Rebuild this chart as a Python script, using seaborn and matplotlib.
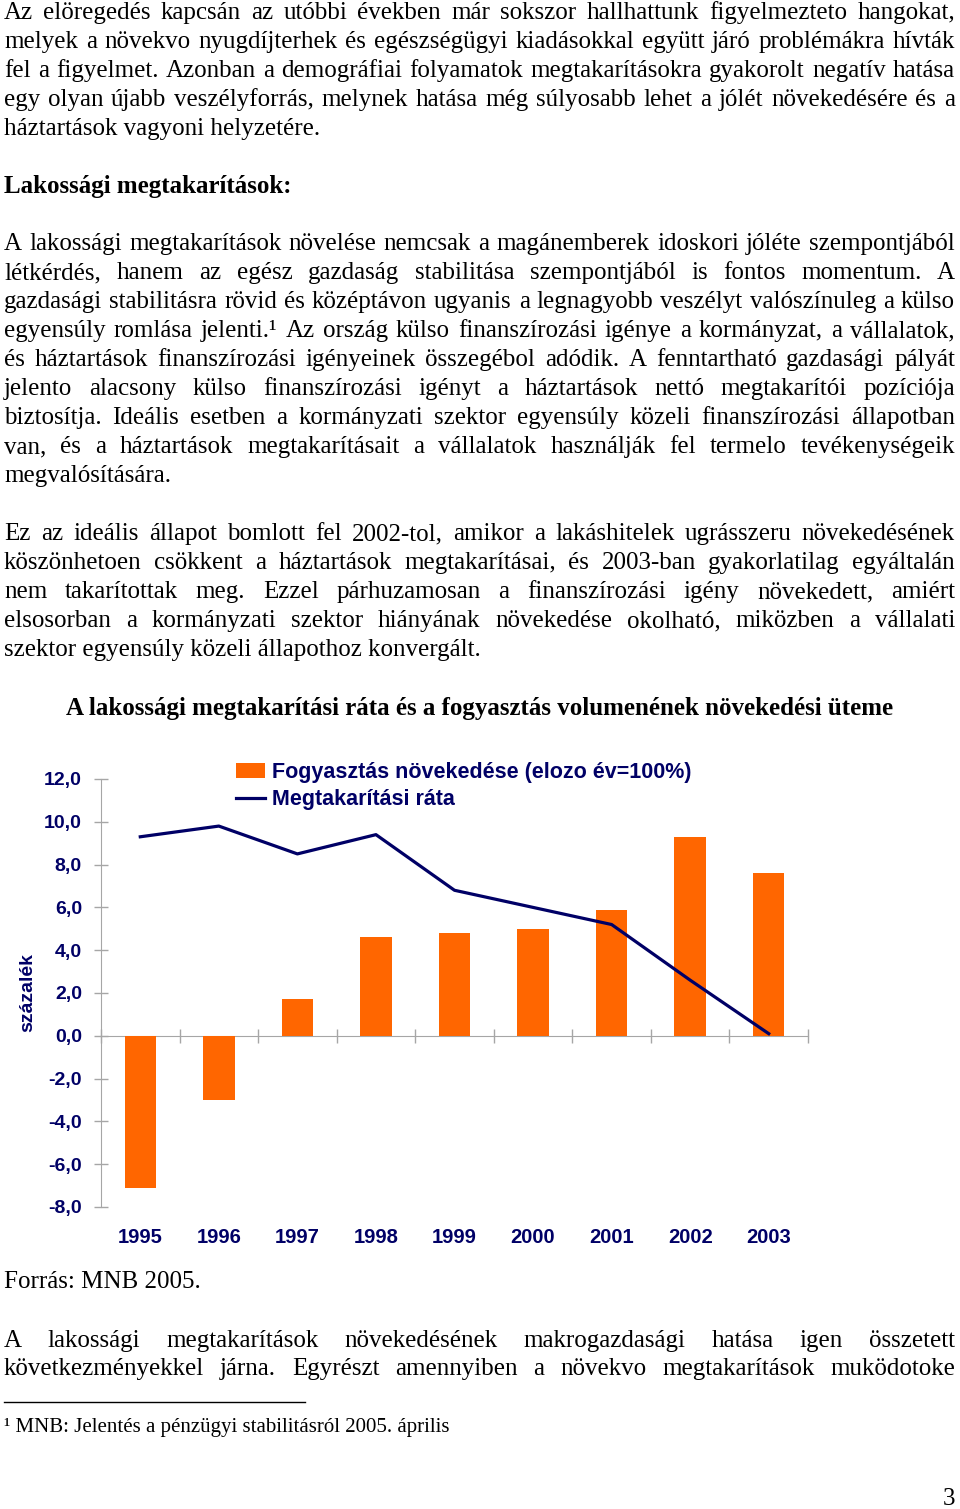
import numpy as np
import matplotlib
matplotlib.use('Agg')
import matplotlib.pyplot as plt
from matplotlib.lines import Line2D
import seaborn as sns

# adatok a diagramhoz
evek = ['1995', '1996', '1997', '1998', '1999', '2000', '2001', '2002', '2003']
fogyasztas = [-7.1, -3.0, 1.7, 4.6, 4.8, 5.0, 5.9, 9.3, 7.6]
megtakaritasi_rata = [9.3, 9.8, 8.5, 9.4, 6.8, 6.0, 5.2, 2.6, 0.1]
y_tickek = [-8, -6, -4, -2, 0, 2, 4, 6, 8, 10, 12]
y_cimkek = [f'{v:.1f}'.replace('.', ',') for v in y_tickek]

cim = 'A lakossági megtakarítási ráta és a fogyasztás volumenének növekedési üteme'
jelmagyarazat = ['Fogyasztás növekedése (elozo év=100%)', 'Megtakarítási ráta']
y_felirat = 'százalék'

# a szoveg sorai: (sor, sorkizart?)
bekezdes1 = [
    ('Az elöregedés kapcsán az utóbbi években már sokszor hallhattunk figyelmezteto hangokat,', True),
    ('melyek a növekvo nyugdíjterhek és egészségügyi kiadásokkal együtt járó problémákra hívták', True),
    ('fel a figyelmet. Azonban a demográfiai folyamatok megtakarításokra gyakorolt negatív hatása', True),
    ('egy olyan újabb veszélyforrás, melynek hatása még súlyosabb lehet a jólét növekedésére és a', True),
    ('háztartások vagyoni helyzetére.', False),
]
bekezdes2 = [
    ('A lakossági megtakarítások növelése nemcsak a magánemberek idoskori jóléte szempontjából', True),
    ('létkérdés, hanem az egész gazdaság stabilitása szempontjából is fontos momentum. A', True),
    ('gazdasági stabilitásra rövid és középtávon ugyanis a legnagyobb veszélyt valószínuleg a külso', True),
    ('egyensúly romlása jelenti.\u00b9 Az ország külso finanszírozási igénye a kormányzat, a vállalatok,', True),
    ('és háztartások finanszírozási igényeinek összegébol adódik. A fenntartható gazdasági pályát', True),
    ('jelento alacsony külso finanszírozási igényt a háztartások nettó megtakarítói pozíciója', True),
    ('biztosítja. Ideális esetben a kormányzati szektor egyensúly közeli finanszírozási állapotban', True),
    ('van, és a háztartások megtakarításait a vállalatok használják fel termelo tevékenységeik', True),
    ('megvalósítására.', False),
]
bekezdes3 = [
    ('Ez az ideális állapot bomlott fel 2002-tol, amikor a lakáshitelek ugrásszeru növekedésének', True),
    ('köszönhetoen csökkent a háztartások megtakarításai, és 2003-ban gyakorlatilag egyáltalán', True),
    ('nem takarítottak meg. Ezzel párhuzamosan a finanszírozási igény növekedett, amiért', True),
    ('elsosorban a kormányzati szektor hiányának növekedése okolható, miközben a vállalati', True),
    ('szektor egyensúly közeli állapothoz konvergált.', False),
]
bekezdes4 = [
    ('A lakossági megtakarítások növekedésének makrogazdasági hatása igen összetett', True),
    ('következményekkel járna. Egyrészt amennyiben a növekvo megtakarítások muködotoke', True),
]

W, H = 960, 1509
SERIF = 'Liberation Serif'
SANS = 'Liberation Sans'
BODY = 18
NAVY = '#000066'
NARANCS = '#ff6600'
SZURKE = '#a6a6a6'

fig = plt.figure(figsize=(W / 100, H / 100), dpi=100)
fig.patch.set_facecolor('white')


# egy sor kiirasa, sorkizarva ha kell
def sor(szoveg, y, sorkizart=False, x0=4, x1=955, meret=BODY, vastag='normal'):
    if not sorkizart:
        fig.text(x0 / W, 1 - y / H, szoveg, family=SERIF, size=meret,
                 weight=vastag, va='baseline', ha='left')
        return
    szavak = szoveg.split(' ')
    elemek = [fig.text(0, 1 - y / H, s, family=SERIF, size=meret, weight=vastag,
                       va='baseline', ha='left') for s in szavak]
    r = fig.canvas.get_renderer()
    szelek = [e.get_window_extent(r).width for e in elemek]
    koz = (x1 - x0 - sum(szelek)) / (len(szavak) - 1)
    x = x0
    for e, sz in zip(elemek, szelek):
        e.set_x(x / W)
        x += sz + koz


def bekezdes(sorok, y_elso, lepes=29):
    for i, (s, j) in enumerate(sorok):
        sor(s, y_elso + i * lepes, j)


bekezdes(bekezdes1, 19)
sor('Lakossági megtakarítások:', 193, vastag='bold')
bekezdes(bekezdes2, 250)
bekezdes(bekezdes3, 540)

fig.text(480 / W, 1 - 715 / H, cim, family=SERIF, size=BODY, weight='bold',
         ha='center', va='baseline')

# diagram
ax = fig.add_axes([101 / W, 1 - 1207 / H, 707 / W, 428 / H])
sns.barplot(x=evek, y=fogyasztas, color=NARANCS, saturation=1, width=0.4,
            linewidth=0, label=jelmagyarazat[0], ax=ax)
sns.lineplot(x=np.arange(len(evek)), y=megtakaritasi_rata, color=NAVY,
             linewidth=2.3, label=jelmagyarazat[1], ax=ax)

ax.set_xlim(-0.5, len(evek) - 0.5)
ax.set_ylim(y_tickek[0], y_tickek[-1])
ax.set_yticks(y_tickek, y_cimkek)
ax.set_xticks(range(len(evek)), evek)
ax.set_xlabel('')
ax.tick_params(axis='y', direction='inout', length=9.4, width=1, color=SZURKE,
               pad=9, labelsize=14, labelcolor=NAVY)
ax.tick_params(axis='x', length=0, pad=15, labelsize=14.5, labelcolor=NAVY)
for c in ax.get_xticklabels() + ax.get_yticklabels():
    c.set_fontweight('bold')
    c.set_family(SANS)
ax.spines[['top', 'right', 'bottom']].set_visible(False)
ax.spines['left'].set_color(SZURKE)

# vizszintes tengely a nullanal, kategoria hatarokon tickekkel
nulla = (0 - y_tickek[0]) / (y_tickek[-1] - y_tickek[0])
sec = ax.secondary_xaxis(nulla)
sec.set_xticks(np.arange(-0.5, len(evek)), [''] * (len(evek) + 1))
sec.tick_params(direction='inout', length=9.4, width=1, color=SZURKE)
for sp in sec.spines.values():
    sp.set_color(SZURKE)

ax.set_ylabel(y_felirat, family=SANS, weight='bold', size=14, color=NAVY)
ax.yaxis.set_label_coords(-0.091, 0.5)

kezelok, nevek = ax.get_legend_handles_labels()
sorrend = [nevek.index(n) for n in jelmagyarazat]
ax.legend([kezelok[i] for i in sorrend], [nevek[i] for i in sorrend],
          loc='upper left', bbox_to_anchor=(236 / W, 1 - 762 / H),
          bbox_transform=fig.transFigure, frameon=False, borderpad=0,
          borderaxespad=0, handlelength=1.35, handletextpad=0.3,
          labelspacing=0.3, labelcolor=NAVY,
          prop={'family': SANS, 'weight': 'bold', 'size': 15.5})

sor('Forrás: MNB 2005.', 1288)
bekezdes(bekezdes4, 1347, 28)

fig.add_artist(Line2D([4 / W, 305 / W], [1 - 1402 / H] * 2, color='black', lw=1))
sor('\u00b9 MNB: Jelentés a pénzügyi stabilitásról 2005. április', 1432, meret=15)
fig.text(955 / W, 1 - 1505 / H, '3', family=SERIF, size=BODY, ha='right', va='baseline')

fig.savefig('out.png', dpi=100, facecolor='white')
